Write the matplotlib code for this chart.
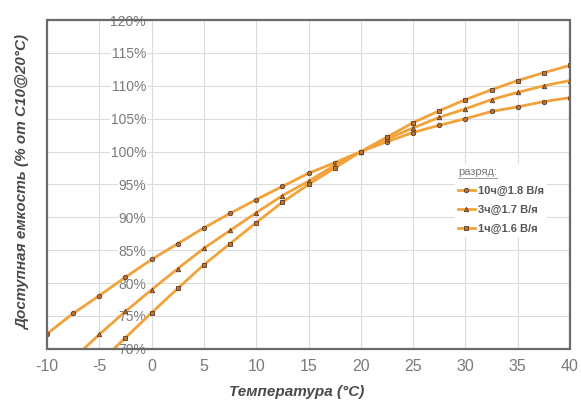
import numpy as np
import matplotlib
matplotlib.use("Agg")
import matplotlib.pyplot as plt
from matplotlib.lines import Line2D
from matplotlib.patches import Rectangle

temps = [-10, -7.5, -5, -2.5, 0, 2.5, 5, 7.5, 10, 12.5, 15, 17.5,
         20, 22.5, 25, 27.5, 30, 32.5, 35, 37.5, 40]

cap_10h = [72.3, 75.4, 78.1, 80.9, 83.6, 86.0, 88.4, 90.6, 92.7, 94.7, 96.7, 98.3,
           100.0, 101.5, 102.9, 104.0, 105.0, 106.1, 106.8, 107.6, 108.2]
cap_3h = [65.5, 68.5, 72.2, 75.7, 79.0, 82.2, 85.3, 88.0, 90.7, 93.3, 95.5, 97.9,
          100.0, 101.9, 103.6, 105.2, 106.5, 107.9, 109.0, 110.0, 110.8]
cap_1h = [60.5, 64.2, 67.9, 71.7, 75.5, 79.2, 82.8, 86.0, 89.2, 92.3, 95.0, 97.5,
          100.0, 102.2, 104.4, 106.2, 107.9, 109.4, 110.8, 112.0, 113.1]

labels = ["10ч@1.8 В/я", "3ч@1.7 В/я", "1ч@1.6 В/я"]
markers = ["o", "^", "s"]

xticks = [-10, -5, 0, 5, 10, 15, 20, 25, 30, 35, 40]
yticks = [70, 75, 80, 85, 90, 95, 100, 105, 110, 115, 120]

plt.rcParams['font.family'] = ['Liberation Sans', 'DejaVu Sans']
plt.rcParams['axes.unicode_minus'] = False

fig = plt.figure(figsize=(5.81, 4.01), dpi=100)
ax = fig.add_axes([0.081, 0.130, 0.900, 0.820])

for vals, lab, mk in zip([cap_10h, cap_3h, cap_1h], labels, markers):
    ax.plot(temps, vals, color="#f2a23a", lw=2.0, marker=mk, ms=3.2,
            mfc="#b8743a", mec="#5a3a22", mew=0.6, label=lab, zorder=3)

ax.set_xlim(-10, 40)
ax.set_ylim(70, 120)
ax.set_xticks(xticks)
ax.set_yticks(yticks)
ax.set_yticklabels([f"{v}%" for v in yticks])
ax.grid(True, color="#dcdcdc", lw=0.8)
ax.set_axisbelow(True)

# y axis sits on the 0 °C line, the frame stays around the whole plot
for s in ax.spines.values():
    s.set_visible(False)
ax.spines['left'].set_position(('data', 0))
ax.add_patch(Rectangle((0, 0), 1, 1, transform=ax.transAxes, fill=False,
                       ec="#6a6a6a", lw=1.6, zorder=5, clip_on=False))

ax.tick_params(axis='y', length=0, pad=4, labelsize=10, labelcolor="#7a7a7a")
ax.tick_params(axis='x', length=0, pad=7, labelsize=11.5, labelcolor="#7a7a7a")
for t in ax.get_yticklabels():
    t.set_bbox(dict(facecolor="white", edgecolor="none", pad=0.5))
    t.set_zorder(4)

fig.text(0.51, 0.005, "Температура (°C)", ha="center", va="bottom",
         fontsize=11, fontweight="bold", style="italic", color="#4a4a4a")
fig.text(0.040, 0.545, "Доступная емкость (% от C10@20°C)", rotation=90,
         ha="center", va="center", fontsize=11, fontweight="bold",
         style="italic", color="#4a4a4a")

leg = ax.legend(loc="upper left", bbox_to_anchor=(0.769, 0.58), frameon=True,
                fancybox=False, edgecolor="none", framealpha=1,
                title="разряд:", fontsize=8, handlelength=1.5,
                handletextpad=0.3, labelspacing=0.8, borderpad=0.3,
                alignment="left")
leg.get_title().set_fontsize(8)
leg.get_title().set_color("#7a7a7a")
for t in leg.get_texts():
    t.set_color("#555555")
    t.set_fontweight("bold")
leg.set_zorder(6)

# underline the legend title
fig.canvas.draw()
bb = leg.get_title().get_window_extent().transformed(fig.transFigure.inverted())
fig.add_artist(Line2D([bb.x0, bb.x1], [bb.y0 - 0.002, bb.y0 - 0.002],
                      color="#9a9a9a", lw=0.7, zorder=7))

fig.savefig("out.png", dpi=100)
